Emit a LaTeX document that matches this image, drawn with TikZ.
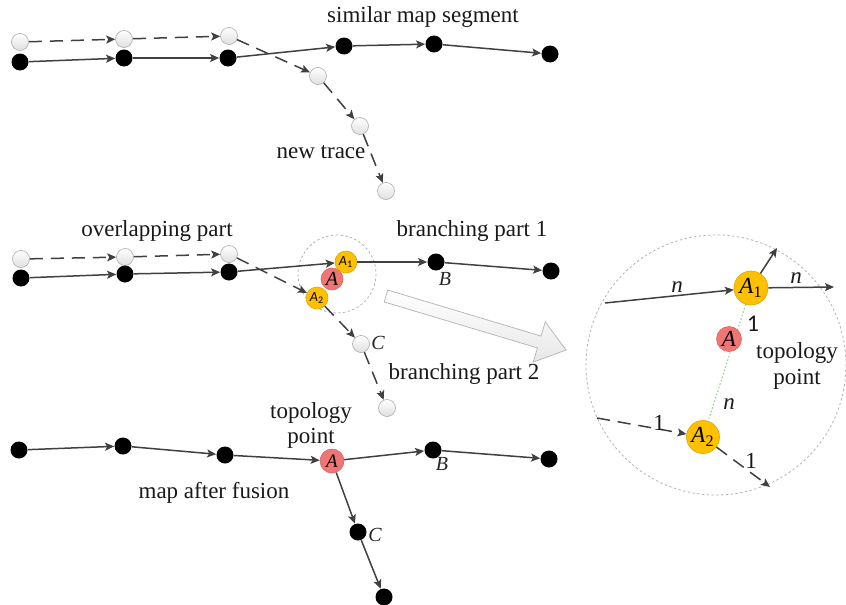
\documentclass[tikz,border=0pt]{standalone}
\usepackage{fontspec}
\setmainfont{Liberation Serif}
\newfontfamily\calib{Carlito}
\usetikzlibrary{arrows.meta}
\definecolor{ln}{RGB}{64,64,64}
\definecolor{gold}{RGB}{255,192,0}
\definecolor{goldb}{RGB}{222,165,0}
\definecolor{rose}{RGB}{240,118,118}
\definecolor{roseb}{RGB}{222,100,100}
\definecolor{dotgreen}{RGB}{150,200,150}
\begin{document}
\begin{tikzpicture}[x=0.5pt,y=-0.5pt,
  bdot/.style={circle,fill=black,minimum size=8.5pt,inner sep=0pt},
  wdot/.style={circle,draw=gray!65,line width=0.3pt,top color=white,bottom color=gray!25,minimum size=8.5pt,inner sep=0pt},
  ydot/.style={circle,fill=gold,draw=goldb,line width=0.3pt,inner sep=0pt,font=\calib\itshape\fontsize{7}{8}\selectfont},
  rdot/.style={circle,fill=rose,draw=roseb,line width=0.3pt,inner sep=0pt},
  conn/.style={draw=ln,line width=0.75pt,-{Stealth[length=4.5pt,width=4pt,inset=1pt]}},
  dconn/.style={conn,dash pattern=on 6.5pt off 4pt},
  lbl/.style={font=\fontsize{11.5}{12.5}\selectfont,inner sep=0pt,text=black!90},
  ilbl/.style={font=\itshape\fontsize{10}{11}\selectfont,inner sep=0pt,text=black!85},
  zlbl/.style={font=\fontsize{11.5}{13}\selectfont,inner sep=0pt,text=black!90},
  zone/.style={draw=gray!60,line width=0.4pt,dash pattern=on 1.2pt off 1.2pt}
]
\useasboundingbox (0,0) rectangle (846,605);

% ---------------- top panel ----------------
\node[wdot] (w1) at (20,42) {};
\node[wdot] (w2) at (124,39) {};
\node[wdot] (w3) at (229,36) {};
\node[wdot] (w4) at (318,76) {};
\node[wdot] (w5) at (360,126) {};
\node[wdot] (w6) at (386,191) {};
\node[bdot] (b1) at (20,62) {};
\node[bdot] (b2) at (124,58) {};
\node[bdot] (b3) at (228,58) {};
\node[bdot] (b4) at (344,46) {};
\node[bdot] (b5) at (434,44) {};
\node[bdot] (b6) at (550,54) {};
\draw[conn] (b1) -- (b2);
\draw[conn] (b2) -- (b3);
\draw[conn] (b3) -- (b4);
\draw[conn] (b4) -- (b5);
\draw[conn] (b5) -- (b6);
\draw[dconn] (w1) -- (w2);
\draw[dconn] (w2) -- (w3);
\draw[dconn] (w3) -- (w4);
\draw[dconn] (w4) -- (w5);
\draw[dconn] (w5) -- (w6);
\node[lbl] (t1) at (423,17) {similar map segment};
\node[lbl] (t2) at (321,152) {new trace};

% ---------------- middle panel ----------------
\draw[zone] (337,274) circle [radius=39];
\node[wdot] (wm1) at (21,259) {};
\node[wdot] (wm2) at (125,257) {};
\node[wdot] (wm3) at (229,254) {};
\node[wdot] (wc) at (361,344) {};
\node[wdot] (wm6) at (387,408) {};
\node[bdot] (bm1) at (21,278) {};
\node[bdot] (bm2) at (125,274) {};
\node[bdot] (bm3) at (229,272) {};
\node[bdot] (bB) at (436,262) {};
\node[bdot] (bm6) at (551,271) {};
\node[rdot,minimum size=11pt,font=\itshape\fontsize{10}{10}\selectfont] (Am) at (332,279) {A};
\node[ydot,minimum size=11pt] (A1m) at (346,262) {A\textsubscript{\upshape 1}};
\node[ydot,minimum size=11pt] (A2m) at (317,298) {A\textsubscript{\upshape 2}};
\draw[conn] (bm1) -- (bm2);
\draw[conn] (bm2) -- (bm3);
\draw[conn] (bm3) -- (A1m);
\draw[conn] (A1m) -- (bB);
\draw[conn] (bB) -- (bm6);
\draw[dconn] (wm1) -- (wm2);
\draw[dconn] (wm2) -- (wm3);
\draw[dconn] (wm3) -- (A2m);
\draw[dconn] (A2m) -- (wc);
\draw[dconn] (wc) -- (wm6);
\node[lbl] (t3) at (157,231) {overlapping part};
\node[lbl] (t4) at (472,231) {branching part 1};
\node[lbl] (t5) at (464,374) {branching part 2};
\node[ilbl] (lB) at (445,279) {B};
\node[ilbl] (lC) at (378,343) {C};

% big hollow arrow
\begin{scope}[shift={(386,296)},rotate=-16.7]
  \path[draw=gray!55,line width=0.4pt,top color=white,bottom color=gray!18]
    (0,-6.2) -- (160,-6.2) -- (160,-21) -- (188,0) -- (160,21) -- (160,6.2) -- (0,6.2) -- cycle;
\end{scope}

% ---------------- zoom panel ----------------
\draw[zone] (716,365) circle [radius=130];
\node[ydot,minimum size=17pt,font=\itshape\fontsize{11.5}{12}\selectfont] (A1z) at (751,288) {A\textsubscript{\upshape 1}};
\node[ydot,minimum size=16.5pt,font=\itshape\fontsize{11.5}{12}\selectfont] (A2z) at (703,437) {A\textsubscript{\upshape 2}};
\draw[dotgreen,line width=0.5pt,dash pattern=on 0.8pt off 1pt] (A1z) -- (A2z);
\node[rdot,minimum size=12.5pt,font=\itshape\fontsize{11.5}{12}\selectfont] (Az) at (729,339) {A};
\coordinate (zin) at (605,303);
\coordinate (zr) at (834,287);
\coordinate (zu) at (777,248);
\coordinate (zdin) at (597,418);
\coordinate (zdout) at (770,487);
\draw[conn] (zin) -- (A1z);
\draw[conn] (A1z) -- (zr);
\draw[conn] (A1z) -- (zu);
\draw[dconn] (zdin) -- (A2z);
\draw[dconn] (A2z) -- (zdout);
\node[zlbl,font=\itshape\fontsize{11.5}{13}\selectfont] (n1) at (677,287) {n};
\node[zlbl,font=\itshape\fontsize{11.5}{13}\selectfont] (n2) at (796,278) {n};
\node[zlbl,font=\itshape\fontsize{11.5}{13}\selectfont] (n3) at (729,404) {n};
\node[zlbl,font=\calib\fontsize{12}{13}\selectfont] (o1) at (753,324) {1};
\node[zlbl] (o2) at (659,423) {1};
\node[zlbl] (o3) at (751,461) {1};
\node[zlbl,align=center] (tp) at (797,366) {topology\\point};

% ---------------- bottom panel ----------------
\node[bdot] (c1) at (19,450) {};
\node[bdot] (c2) at (123,446) {};
\node[bdot] (c3) at (225,455) {};
\node[rdot,minimum size=12pt,font=\itshape\fontsize{9.5}{10}\selectfont] (Ab) at (332,461) {A};
\node[bdot] (Bb) at (433,450) {};
\node[bdot] (c6) at (549,459) {};
\node[bdot] (Cb) at (358,532) {};
\node[bdot] (c8) at (384,597) {};
\draw[conn] (c1) -- (c2);
\draw[conn] (c2) -- (c3);
\draw[conn] (c3) -- (Ab);
\draw[conn] (Ab) -- (Bb);
\draw[conn] (Bb) -- (c6);
\draw[conn] (Ab) -- (Cb);
\draw[conn] (Cb) -- (c8);
\node[lbl,align=center] (t6) at (311,425) {topology\\point};
\node[lbl] (t7) at (214,493) {map after fusion};
\node[ilbl] (lB2) at (442,464) {B};
\node[ilbl] (lC2) at (375,535) {C};
\end{tikzpicture}
\end{document}
